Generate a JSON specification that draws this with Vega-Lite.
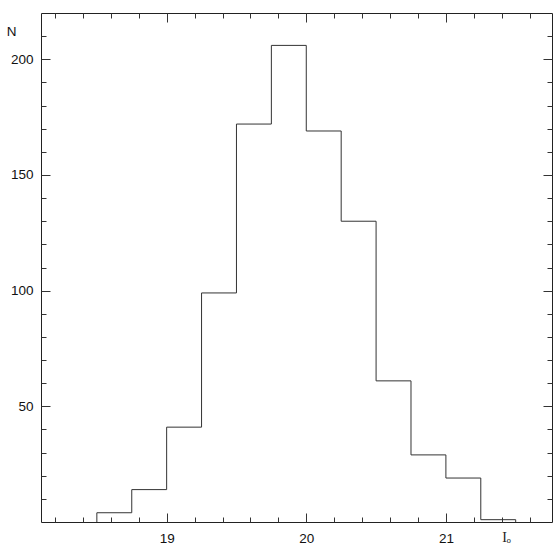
{
  "$schema": "https://vega.github.io/schema/vega-lite/v6.json",
  "autosize": "none",
  "width": 511,
  "height": 509,
  "padding": {"left": 41, "top": 13, "right": 8, "bottom": 25},
  "background": "white",
  "config": {
    "view": {"stroke": "#222", "strokeWidth": 1},
    "font": "Liberation Sans"
  },
  "data": {
    "values": [
      {"i": 0, "mag": 18.5, "n": 0},
      {"i": 1, "mag": 18.5, "n": 4},
      {"i": 2, "mag": 18.75, "n": 14},
      {"i": 3, "mag": 19.0, "n": 41},
      {"i": 4, "mag": 19.25, "n": 99},
      {"i": 5, "mag": 19.5, "n": 172},
      {"i": 6, "mag": 19.75, "n": 206},
      {"i": 7, "mag": 20.0, "n": 169},
      {"i": 8, "mag": 20.25, "n": 130},
      {"i": 9, "mag": 20.5, "n": 61},
      {"i": 10, "mag": 20.75, "n": 29},
      {"i": 11, "mag": 21.0, "n": 19},
      {"i": 12, "mag": 21.25, "n": 1},
      {"i": 13, "mag": 21.5, "n": 0}
    ]
  },
  "resolve": {"axis": {"x": "independent", "y": "independent"}},
  "layer": [
    {
      "mark": {"type": "line", "interpolate": "step-after", "color": "#333", "strokeWidth": 1, "clip": true},
      "encoding": {
        "order": {"field": "i", "type": "quantitative"},
        "x": {
          "field": "mag", "type": "quantitative",
          "scale": {"domain": [18.1, 21.76], "nice": false, "zero": false},
          "axis": {
            "orient": "bottom",
            "values": [18.2, 18.4, 18.6, 18.8, 19, 19.2, 19.4, 19.6, 19.8, 20, 20.2, 20.4, 20.6, 20.8, 21, 21.2, 21.4, 21.6],
            "labelExpr": "abs(datum.value - round(datum.value)) < 0.01 ? format(datum.value, 'd') : ''",
            "domain": false,
            "grid": false,
            "tickColor": "#333",
            "tickSize": {"condition": {"test": "abs(datum.value - round(datum.value)) < 0.01", "value": -9}, "value": -5},
            "labelPadding": 18,
            "labelFontSize": 13.5,
            "labelColor": "#111",
            "labelFont": "Liberation Sans",
            "title": "Iₒ",
            "titleFont": "Liberation Serif",
            "titleFontWeight": "normal",
            "titleFontSize": 14,
            "titleColor": "#222",
            "titleX": 465,
            "titleY": 8,
            "titleBaseline": "top",
            "titleAlign": "center"
          }
        },
        "y": {
          "field": "n", "type": "quantitative",
          "scale": {"domain": [0, 220], "nice": false},
          "axis": {
            "orient": "left",
            "values": [10, 20, 30, 40, 50, 60, 70, 80, 90, 100, 110, 120, 130, 140, 150, 160, 170, 180, 190, 200, 210],
            "labelExpr": "datum.value % 50 === 0 ? datum.value : ''",
            "domain": false,
            "grid": false,
            "tickColor": "#333",
            "tickSize": {"condition": {"test": "datum.value % 50 === 0", "value": -9}, "value": -5},
            "labelPadding": 17,
            "labelFontSize": 13.5,
            "labelColor": "#111",
            "labelFont": "Liberation Sans",
            "title": "N",
            "titleAngle": 0,
            "titleFont": "Liberation Sans",
            "titleFontWeight": "normal",
            "titleFontSize": 13.5,
            "titleColor": "#111",
            "titleX": -30,
            "titleY": 18,
            "titleAlign": "center",
            "titleBaseline": "middle"
          }
        }
      }
    },
    {
      "mark": {"type": "line", "interpolate": "step-after", "strokeOpacity": 0},
      "encoding": {
        "order": {"field": "i", "type": "quantitative"},
        "x": {
          "field": "mag", "type": "quantitative",
          "axis": {
            "orient": "top",
            "values": [18.2, 18.4, 18.6, 18.8, 19, 19.2, 19.4, 19.6, 19.8, 20, 20.2, 20.4, 20.6, 20.8, 21, 21.2, 21.4, 21.6],
            "labels": false,
            "domain": false,
            "grid": false,
            "title": null,
            "tickColor": "#333",
            "tickSize": {"condition": {"test": "abs(datum.value - round(datum.value)) < 0.01", "value": -9}, "value": -5}
          }
        },
        "y": {
          "field": "n", "type": "quantitative",
          "axis": {
            "orient": "right",
            "values": [10, 20, 30, 40, 50, 60, 70, 80, 90, 100, 110, 120, 130, 140, 150, 160, 170, 180, 190, 200, 210],
            "labels": false,
            "domain": false,
            "grid": false,
            "title": null,
            "tickColor": "#333",
            "tickSize": {"condition": {"test": "datum.value % 50 === 0", "value": -9}, "value": -5}
          }
        }
      }
    }
  ]
}
